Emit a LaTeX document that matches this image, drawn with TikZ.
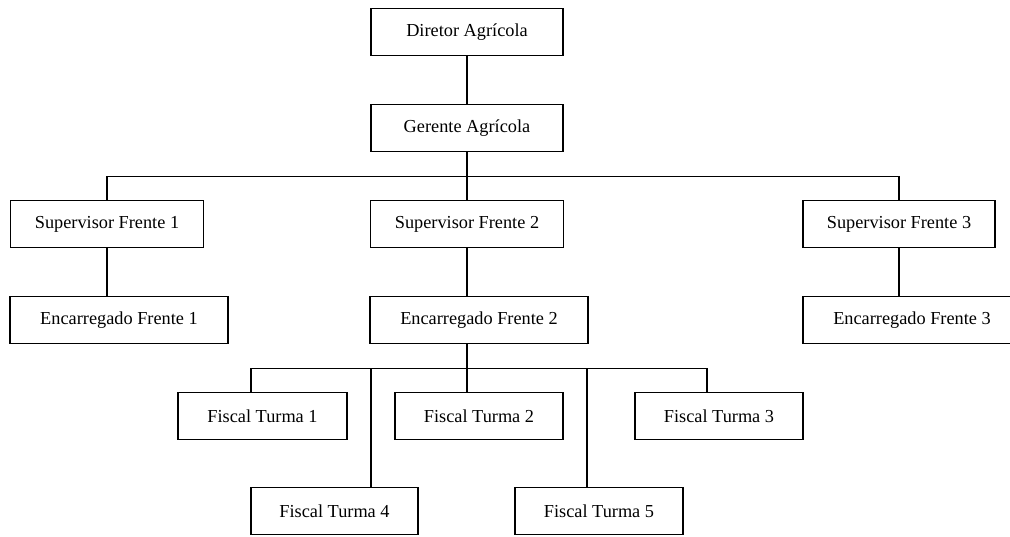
\documentclass[tikz,border=0pt]{standalone}
\usepackage{fontspec}
\setmainfont{Liberation Serif}
\tikzset{
    cargo/.style={draw, line width=1.8pt, minimum height=47pt, inner sep=0pt,
        font=\fontsize{18.3}{22}\selectfont},
    liga/.style={line width=1.8pt}
}
\begin{document}
\begin{tikzpicture}[x=1pt,y=-1pt]
            \useasboundingbox (0,0) rectangle (1010,536);
            % topo
            \node[cargo, minimum width=192pt] (dir) at (467,32) {Diretor Agrícola};
            \node[cargo, minimum width=192pt] (ger) at (467,128) {Gerente Agrícola};
            % frentes
            \node[cargo, minimum width=193pt] (sup1) at (107,224) {Supervisor Frente 1};
            \node[cargo, minimum width=193pt] (sup2) at (467,224) {Supervisor Frente 2};
            \node[cargo, minimum width=192pt] (sup3) at (899,224) {Supervisor Frente 3};
            \node[cargo, minimum width=218pt] (enc1) at (119,320) {Encarregado Frente 1};
            \node[cargo, minimum width=218pt] (enc2) at (479,320) {Encarregado Frente 2};
            \node[cargo, minimum width=218pt] (enc3) at (912,320) {Encarregado Frente 3};
            % turmas
            \node[cargo, minimum width=169pt] (f1) at (262.5,416) {Fiscal Turma 1};
            \node[cargo, minimum width=168pt] (f2) at (479,416) {Fiscal Turma 2};
            \node[cargo, minimum width=168pt] (f3) at (719,416) {Fiscal Turma 3};
            \node[cargo, minimum width=167pt] (f4) at (334.5,511) {Fiscal Turma 4};
            \node[cargo, minimum width=168pt] (f5) at (599,511) {Fiscal Turma 5};
            % ligacoes
            \draw[liga] (dir) -- (ger);
            \draw[liga] (ger.south) -- ++(0,24) coordinate (b1);
            \draw[liga] (sup1.north) |- (b1) -| (sup3.north);
            \draw[liga] (b1) -- (sup2.north);
            \foreach \i in {1,...,3} {
                \draw[liga] (sup\i) -- (sup\i |- enc\i.north);
            }
            \draw[liga] (enc2.south -| sup2) -- ++(0,24) coordinate (b2);
            \foreach \f/\d in {f1/-11.5,f2/-12,f3/-12,f4/36.5,f5/-12}
                \coordinate (d\f) at ([xshift=\d pt]\f.north);
            \draw[liga] (df1) |- (b2) -| (df3);
            \foreach \f in {f2,f4,f5}
                \draw[liga] (d\f) -- (d\f |- b2);
        \end{tikzpicture}
\end{document}
